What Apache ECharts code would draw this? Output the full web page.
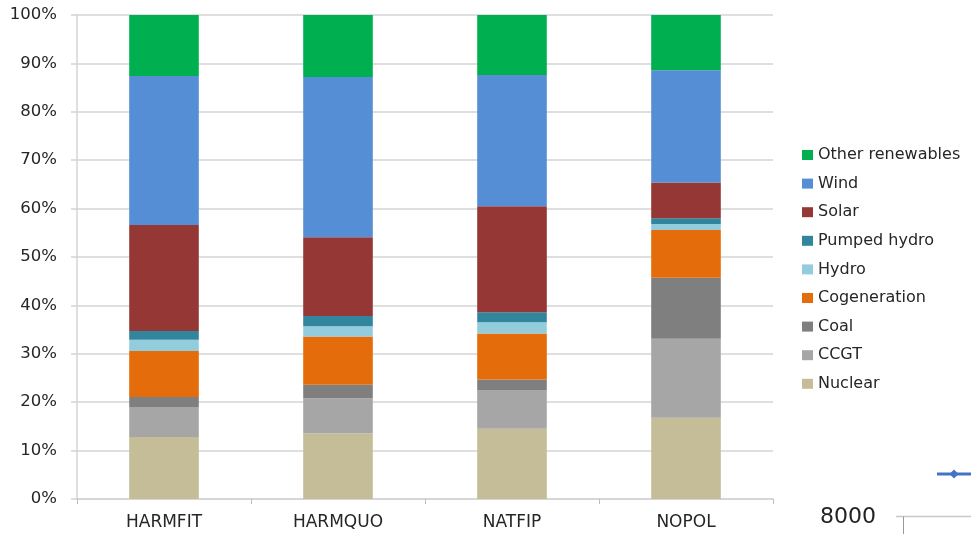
<!DOCTYPE html>
<html>
<head>
<meta charset="utf-8">
<style>
  html, body { margin: 0; padding: 0; background: #ffffff; }
  #chart { width: 971px; height: 534px; }
</style>
<script src="https://cdn.jsdelivr.net/npm/echarts@6/dist/echarts.min.js"></script>
</head>
<body>
<div id="chart"></div>
<script>
// Scenarios on the category axis
const scenarios = ['HARMFIT', 'HARMQUO', 'NATFIP', 'NOPOL'];

// Share of generation per technology (%), one value per scenario
const nuclear         = [12.8, 13.6, 14.5, 16.8];
const ccgt            = [6.2, 7.2, 7.9, 16.3];
const coal            = [2.1, 2.8, 2.3, 12.6];
const cogeneration    = [9.5, 10.0, 9.5, 9.9];
const hydro           = [2.3, 2.1, 2.3, 1.2];
const pumpedHydro     = [1.8, 2.1, 2.1, 1.2];
const solar           = [21.9, 16.3, 21.9, 7.4];
const wind            = [30.8, 33.1, 27.1, 23.2];
const otherRenewables = [12.6, 12.8, 12.4, 11.4];

// Y-axis ticks
const yTicks = [0, 10, 20, 30, 40, 50, 60, 70, 80, 90, 100];

// Stack order, bottom to top
const stackSeries = [
  { name: 'Nuclear',          data: nuclear,         color: '#C4BD97' },
  { name: 'CCGT',             data: ccgt,            color: '#A6A6A6' },
  { name: 'Coal',             data: coal,            color: '#7F7F7F' },
  { name: 'Cogeneration',     data: cogeneration,    color: '#E46C0A' },
  { name: 'Hydro',            data: hydro,           color: '#93CDDD' },
  { name: 'Pumped hydro',     data: pumpedHydro,     color: '#31859C' },
  { name: 'Solar',            data: solar,           color: '#953735' },
  { name: 'Wind',             data: wind,            color: '#558ED5' },
  { name: 'Other renewables', data: otherRenewables, color: '#00B050' }
];

const FONT = '"DejaVu Sans", sans-serif';
const TEXT = '#262626';
const GRID = '#d4d4d4';

const chart = echarts.init(document.getElementById('chart'), null, { renderer: 'canvas' });

chart.setOption({
  animation: false,
  backgroundColor: '#ffffff',
  grid: { left: 77, right: 198, top: 15, bottom: 35, containLabel: false },
  legend: {
    orient: 'vertical',
    left: 797,
    top: 141,
    icon: 'rect',
    itemWidth: 11,
    itemHeight: 10,
    itemGap: 10.6,
    textStyle: { fontFamily: FONT, fontSize: 16, color: TEXT, lineHeight: 18 },
    data: stackSeries.map(s => s.name).reverse()
  },
  xAxis: {
    type: 'category',
    data: scenarios,
    axisLine: { show: true, lineStyle: { color: GRID, width: 1.5 } },
    axisTick: { show: true, length: 5, interval: 0, lineStyle: { color: '#bdbdbd' } },
    axisLabel: { fontFamily: FONT, fontSize: 17, color: TEXT, margin: 15 },
    splitLine: { show: false }
  },
  yAxis: {
    type: 'value',
    min: yTicks[0],
    max: yTicks[yTicks.length - 1],
    interval: yTicks[1] - yTicks[0],
    axisLine: { show: true, lineStyle: { color: GRID, width: 1.5 } },
    axisTick: { show: true, length: 6, lineStyle: { color: GRID, width: 1.5 } },
    axisLabel: { fontFamily: FONT, fontSize: 16.5, color: TEXT, margin: 20, formatter: '{value}%' },
    splitLine: { show: true, lineStyle: { color: GRID, width: 1.5 } }
  },
  series: stackSeries.map(s => ({
    name: s.name,
    type: 'bar',
    stack: 'share',
    barWidth: '40%',
    data: s.data,
    itemStyle: { color: s.color },
    emphasis: { disabled: true }
  })),
  // Cut-off corner of the neighbouring chart (axis label, axis line and legend key)
  graphic: [
    { type: 'text', left: 820, top: 506,
      style: { text: '8000', fontFamily: FONT, fontSize: 22, fill: '#222' } },
    { type: 'line', shape: { x1: 896, y1: 516.5, x2: 971, y2: 516.5 },
      style: { stroke: '#c8c8c8', lineWidth: 1.5 } },
    { type: 'line', shape: { x1: 903.5, y1: 516.5, x2: 903.5, y2: 534 },
      style: { stroke: '#9a9a9a', lineWidth: 1 } },
    { type: 'line', shape: { x1: 937, y1: 474, x2: 971, y2: 474 },
      style: { stroke: '#4472C4', lineWidth: 3 } },
    { type: 'polygon', shape: { points: [[954, 469.5], [958.5, 474], [954, 478.5], [949.5, 474]] },
      style: { fill: '#4472C4' } }
  ]
});
</script>
</body>
</html>
